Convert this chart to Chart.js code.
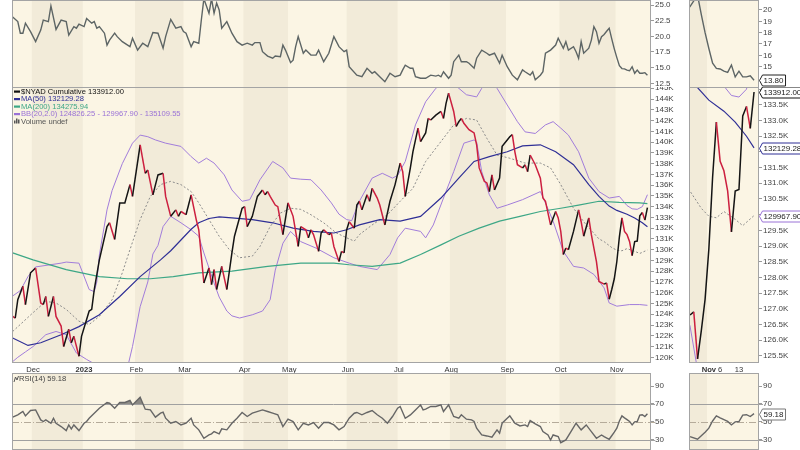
<!DOCTYPE html>
<html lang="en">
<head>
<meta charset="UTF-8">
<title>$NYAD Cumulative</title>
<script src="https://cdn.jsdelivr.net/npm/chart.js"></script>
<style>
    body { margin: 0; width: 800px; height: 450px; overflow: hidden; position: relative; background: #fff; }
    canvas { position: absolute; }
</style>
</head>
<body>
    <canvas id="topA" data-kind="top" width="678" height="88" style="left:12px;top:0"></canvas>
    <canvas id="mainA" data-kind="main" width="678" height="286" style="left:12px;top:87px"></canvas>
    <canvas id="rsiA" data-kind="rsi" width="678" height="77" style="left:12px;top:373px"></canvas>
    <canvas id="topB" data-kind="top" width="111" height="88" style="left:689px;top:0"></canvas>
    <canvas id="mainB" data-kind="main" width="111" height="286" style="left:689px;top:87px"></canvas>
    <canvas id="rsiB" data-kind="rsi" width="111" height="77" style="left:689px;top:373px"></canvas>

<script>
// day index 0 = 18 Nov 2022 ... 249 = 17 Nov 2023 (trading days), values in thousands
const nyad = [[0,123.8],[1,123.65],[2,125.35],[4,126.6],[5,124.9],[7,127.85],[9,128.3],[11,125.05],[12,124.9],[13,125.65],[14,123.8],[16,125.65],[17,123.8],[19,122.9],[20,121.0],[22,122.6],[23,121.35],[24,121.95],[26,120.1],[27,121.95],[30,124.3],[31,124.45],[32,126.3],[34,129.05],[37,132.15],[38,132.5],[40,130.95],[42,134.35],[44,134.35],[46,136.05],[47,134.95],[50,139.75],[52,137.1],[53,137.4],[55,135.1],[57,136.95],[59,137.1],[60,134.95],[62,133.1],[64,133.7],[65,133.1],[66,133.55],[68,133.25],[70,135.1],[72,132.8],[73,131.85],[75,126.9],[77,128.3],[78,126.75],[79,128.15],[80,126.3],[82,128.45],[84,126.3],[86,129.7],[87,131.25],[90,133.85],[91,134.0],[92,132.15],[94,133.1],[96,134.95],[98,135.55],[99,135.1],[100,135.4],[101,134.95],[103,134.15],[104,134.0],[106,131.4],[108,134.35],[110,133.1],[112,130.3],[113,132.15],[115,131.85],[116,131.1],[117,131.85],[118,131.4],[120,129.85],[121,131.55],[122,131.85],[124,131.4],[125,131.55],[126,130.3],[128,128.9],[129,129.85],[130,129.7],[131,131.85],[132,132.6],[134,132.0],[135,134.15],[136,134.5],[137,133.7],[139,135.1],[140,134.5],[141,135.7],[143,134.8],[144,134.15],[146,132.3],[148,134.5],[150,136.05],[152,138.05],[153,137.25],[154,134.95],[156,137.6],[157,139.1],[159,141.3],[160,140.05],[162,140.85],[163,142.2],[164,142.05],[166,142.5],[168,142.85],[169,142.2],[170,143.6],[171,144.55],[173,142.85],[174,141.45],[175,141.9],[176,142.2],[177,141.75],[179,141.15],[181,140.85],[182,139.75],[183,137.6],[185,136.35],[186,136.2],[187,135.4],[188,136.95],[189,135.55],[191,136.65],[192,139.6],[194,140.2],[195,140.5],[196,140.7],[197,139.1],[198,137.9],[200,137.6],[201,137.9],[202,137.25],[203,138.8],[205,137.9],[207,136.65],[208,134.8],[209,134.5],[211,132.3],[213,133.55],[214,132.95],[215,131.7],[216,129.55],[217,130.15],[218,130.0],[220,131.7],[222,133.7],[223,132.6],[224,131.25],[226,132.95],[227,131.4],[229,128.9],[230,127.05],[232,126.8],[233,126.9],[234,125.4],[235,126.3],[236,127.3],[237,128.9],[238,131.2],[239,132.95],[240,131.7],[241,131.4],[242,130.75],[243,129.45],[244,130.75],[245,130.8],[246,133.15],[247,133.45],[248,132.75],[249,133.91]];

const ma50 = [[0,121.8],[6,121.1],[11,121.35],[19,122.1],[26,122.85],[34,123.95],[42,125.65],[50,127.5],[58,129.05],[62,129.9],[66,130.9],[70,131.9],[73,132.5],[77,132.9],[81,133.05],[86,132.95],[94,132.8],[102,132.5],[110,132.0],[118,131.7],[126,131.55],[131,131.85],[136,132.3],[144,132.8],[152,132.65],[160,133.1],[168,134.8],[175,136.65],[181,138.2],[187,138.65],[194,139.1],[200,139.65],[207,139.75],[213,139.1],[220,137.9],[226,136.05],[230,134.95],[234,134.05],[237,133.65],[241,133.3],[244,132.95],[247,132.5],[249,132.13]];

const ma200 = [[0,129.7],[8,129.05],[21,128.15],[34,127.5],[45,127.3],[54,127.3],[63,127.5],[73,127.85],[86,128.0],[100,128.45],[113,128.75],[126,128.75],[132,128.6],[141,128.45],[152,128.75],[160,129.55],[168,130.45],[175,131.25],[183,132.0],[191,132.65],[199,133.1],[207,133.55],[215,133.85],[222,134.15],[230,134.5],[238,134.4],[246,134.35],[249,134.28]];

const bbUpper = [[0,125.7],[3,126.2],[6,127.5],[9,128.4],[19,128.75],[21,128.85],[26,128.75],[30,126.3],[32,126.1],[33,127.0],[34,129.5],[37,133.7],[39,135.5],[43,138.0],[47,139.9],[50,140.65],[53,140.5],[56,140.2],[60,139.9],[66,139.6],[70,138.65],[73,138.05],[76,138.5],[79,138.05],[83,136.95],[86,135.55],[90,134.5],[93,134.65],[97,136.5],[102,138.2],[106,137.6],[109,136.65],[113,136.55],[117,136.5],[121,135.55],[125,134.35],[128,133.3],[131,132.8],[133,132.7],[136,134.5],[141,136.65],[145,137.1],[149,136.65],[151,136.9],[154,138.2],[158,141.6],[162,143.75],[166,145.0],[170,145.8],[175,145.0],[178,144.4],[182,144.2],[184,145.0],[187,146.0],[190,145.0],[194,143.45],[198,141.9],[201,140.95],[205,140.8],[209,141.6],[212,141.9],[215,141.3],[218,140.65],[222,139.1],[226,136.65],[230,135.4],[234,134.8],[238,134.95],[241,134.1],[243,133.8],[245,133.75],[247,134.0],[249,135.11]];

const bbLower = [[0,119.6],[2,120.0],[5,120.5],[8,121.0],[13,122.1],[17,122.4],[21,122.1],[25,120.4],[29,119.8],[32,119.4],[35,117.8],[39,116.6],[43,117.6],[45,119.0],[47,121.0],[50,124.7],[53,127.0],[55,129.6],[57,130.4],[59,132.15],[62,133.1],[66,132.5],[70,131.85],[73,131.25],[75,129.7],[79,126.9],[81,125.6],[84,124.3],[86,123.85],[89,123.65],[94,123.95],[98,124.3],[101,125.35],[103,128.1],[106,130.6],[109,131.7],[113,130.75],[119,130.15],[126,129.25],[132,128.75],[136,128.45],[143,128.15],[148,129.55],[151,131.1],[154,132.0],[160,131.7],[162,131.1],[165,132.3],[169,134.8],[173,137.25],[177,139.9],[181,140.2],[182,140.0],[184,137.25],[187,135.1],[190,133.85],[194,134.15],[200,134.65],[207,135.4],[208,134.9],[212,132.65],[216,129.85],[220,128.45],[224,128.3],[228,127.7],[232,126.45],[234,125.05],[237,124.75],[242,124.9],[246,124.9],[249,124.83]];

const bbMiddle = [[0,122.4],[8,124.15],[13,125.2],[17,125.05],[21,124.45],[26,123.35],[30,123.05],[34,123.8],[39,125.35],[43,127.85],[46,130.0],[50,132.8],[54,134.95],[58,136.05],[62,136.35],[66,136.05],[70,135.4],[73,134.35],[77,132.8],[81,131.25],[85,130.0],[89,129.25],[94,129.4],[97,130.3],[101,132.15],[105,133.4],[109,133.85],[113,133.75],[117,133.25],[122,132.5],[127,131.55],[132,131.0],[134,130.8],[136,131.4],[141,132.3],[147,133.25],[152,134.5],[157,135.7],[162,138.2],[168,140.05],[173,141.6],[178,142.2],[182,142.05],[186,140.35],[190,138.8],[195,138.5],[201,138.05],[207,138.05],[211,137.6],[215,136.05],[220,133.85],[225,132.3],[230,131.0],[232,130.75],[235,130.2],[237,129.95],[239,129.9],[241,130.1],[244,129.85],[246,129.65],[249,129.97]];

const vix = [[0,23.1],[2,22.35],[3,20.5],[4,20.5],[5,22.1],[7,20.75],[9,19.15],[11,21.0],[12,22.6],[14,22.35],[15,24.85],[17,21.1],[19,22.6],[21,22.35],[22,20.2],[24,21.55],[25,21.3],[26,21.95],[28,21.55],[29,22.85],[31,22.1],[32,22.35],[33,21.3],[34,21.55],[36,20.5],[37,18.6],[38,19.4],[40,20.5],[41,19.95],[43,19.15],[46,18.35],[47,19.7],[49,17.8],[51,18.9],[53,18.35],[55,20.6],[57,20.5],[59,18.1],[60,19.95],[62,22.7],[64,21.3],[66,21.55],[67,20.75],[68,20.5],[70,18.35],[71,19.15],[73,18.9],[74,22.6],[75,26.0],[77,23.7],[78,26.0],[79,23.7],[80,25.3],[81,24.2],[82,21.3],[84,22.35],[86,20.5],[88,19.15],[90,18.6],[92,18.9],[94,18.6],[95,19.0],[97,19.0],[98,17.55],[100,16.85],[102,16.5],[103,16.85],[105,16.75],[106,18.6],[107,17.8],[109,15.8],[110,16.2],[111,18.35],[112,19.95],[114,17.3],[115,17.8],[117,17.0],[119,17.0],[120,17.8],[122,15.95],[124,17.3],[126,19.95],[128,18.35],[130,17.55],[131,17.8],[132,15.15],[135,13.8],[137,13.55],[139,14.9],[141,14.1],[142,14.35],[144,13.55],[146,12.75],[148,14.1],[150,13.55],[152,13.8],[153,14.65],[154,15.4],[156,14.9],[157,14.9],[158,13.55],[160,13.3],[162,13.3],[164,13.8],[166,13.65],[167,13.8],[168,13.55],[169,14.35],[171,13.3],[172,13.8],[173,15.95],[175,17.0],[176,15.95],[178,15.95],[179,15.7],[181,14.9],[182,16.5],[184,17.8],[186,17.3],[187,17.0],[189,17.3],[191,15.7],[192,17.0],[194,15.15],[196,13.8],[198,13.05],[200,14.65],[201,14.35],[203,13.8],[204,14.35],[205,13.05],[207,13.8],[208,14.35],[209,17.3],[211,17.8],[213,18.6],[214,19.7],[215,18.9],[216,18.1],[217,19.15],[218,17.8],[220,18.35],[221,17.55],[222,16.5],[223,19.15],[224,17.3],[226,18.1],[227,19.4],[228,21.55],[229,20.75],[230,18.9],[231,19.95],[232,20.3],[233,20.8],[234,21.3],[235,19.6],[236,18.0],[237,16.6],[238,15.3],[239,14.85],[240,14.8],[241,14.6],[242,14.5],[243,15.15],[244,14.1],[245,14.6],[246,14.1],[247,14.1],[248,14.2],[249,13.8]];

const rsi = [[0,55.3],[2,57.9],[3,59.7],[4,61.6],[5,56.7],[7,62.7],[9,63.4],[11,52.2],[12,50.4],[13,52.2],[15,48.5],[16,54.1],[17,48.5],[19,44.8],[21,40.3],[22,46.6],[23,42.2],[24,46.6],[26,40.3],[28,48.5],[29,50.4],[30,54.1],[32,59.7],[34,65.3],[37,71.7],[38,70.9],[40,65.3],[42,71.7],[44,71.7],[46,73.9],[47,69.0],[50,77.6],[52,64.2],[54,63.4],[56,55.3],[58,59.7],[59,60.8],[60,54.1],[62,48.5],[64,50.4],[66,46.6],[68,48.5],[70,54.1],[71,46.6],[73,41.1],[75,31.7],[77,35.4],[78,36.6],[79,39.2],[81,36.6],[82,42.2],[84,41.1],[86,48.5],[88,54.1],[90,60.5],[92,56.0],[94,59.7],[98,63.4],[100,61.6],[102,59.7],[104,57.9],[106,44.8],[108,53.0],[110,50.4],[112,41.1],[114,48.5],[116,46.6],[118,49.3],[120,42.9],[122,49.3],[124,49.3],[126,46.6],[128,41.1],[130,44.8],[132,54.1],[134,59.7],[135,60.5],[137,57.9],[139,60.5],[141,62.7],[143,57.9],[145,54.1],[147,48.5],[149,56.0],[151,65.3],[152,67.2],[154,54.1],[156,57.8],[158,63.4],[160,69.0],[161,63.4],[162,64.2],[164,67.2],[166,67.2],[168,69.0],[169,61.6],[171,69.0],[173,56.0],[175,54.1],[176,57.9],[178,53.0],[180,52.2],[181,50.4],[182,42.9],[184,35.4],[186,34.3],[188,32.9],[190,41.1],[191,37.4],[192,48.5],[194,54.1],[195,56.7],[197,48.5],[199,45.5],[201,46.6],[202,44.8],[203,51.5],[205,47.8],[207,44.8],[208,39.2],[210,35.4],[211,29.8],[212,35.4],[214,33.6],[215,26.8],[217,29.8],[219,39.2],[221,48.5],[223,41.1],[225,46.6],[227,39.2],[229,31.7],[231,35.4],[232,33.6],[234,30.6],[235,34.5],[236,38.5],[237,43.0],[238,51.0],[239,56.7],[240,54.5],[241,52.5],[242,50.5],[243,46.6],[244,50.0],[245,50.4],[246,57.5],[247,58.0],[248,56.0],[249,59.18]];

// month starts (day index) and their labels
const monthTicks = [8, 28, 48.5, 67.5, 91, 108.5, 131.5, 151.5, 172, 194, 215, 237];
const monthLabels = ['Dec', '2023', 'Feb', 'Mar', 'Apr', 'May', 'Jun', 'Jul', 'Aug', 'Sep', 'Oct', 'Nov'];
const zoomTicks = [237, 240, 245];
const zoomLabels = ['Nov', '6', '13'];
const rsiLevels = [30, 50, 70];
const rsiTicks = [30, 50, 70, 90];

const legendRows = [
    ['$NYAD Cumulative 133912.00', '#111111'],
    ['MA(50) 132129.28', '#2f2f96'],
    ['MA(200) 134275.94', '#3da786'],
    ['BB(20,2.0) 124826.25 - 129967.90 - 135109.55', '#9a72d6'],
    ['Volume undef', '#555555']
];
const rsiLegend = 'RSI(14) 59.18';

// last-value tags on the zoomed panels
const tagsTop = [[13.80, '13.80', '#222']];
const tagsMain = [[133.912, '133912.00', '#111'], [132.12928, '132129.28', '#2f2f96'], [129.9679, '129967.90', '#9a72d6']];
const tagsRsi = [[59.18, '59.18', '#777']];

const FONT = "'Liberation Sans', Arial, sans-serif";
const BG_LIGHT = '#fbf5e4';
const BG_DARK = '#f2ebd9';
const RED = '#cc1f3f';

function pts(arr) { return arr.map(p => ({ x: p[0], y: p[1] })); }

const panelCfg = {
    topA: {}, mainA: { legend: true }, rsiA: { legend: true },
    topB: { tags: tagsTop }, mainB: { tags: tagsMain }, rsiB: { tags: tagsRsi }
};

const panelPlugin = {
    id: 'panel',
    beforeDatasetsDraw(chart) {
        const { ctx, chartArea: a } = chart;
        const xs = chart.scales.x, ys = chart.scales.y;
        ctx.save();
        ctx.fillStyle = BG_LIGHT;
        ctx.fillRect(a.left, a.top, a.width, a.height);
        ctx.fillStyle = BG_DARK;
        for (let k = 0; k + 1 < monthTicks.length; k += 2) {
            const l = Math.max(a.left, xs.getPixelForValue(monthTicks[k] - 0.5));
            const r = Math.min(a.right, xs.getPixelForValue(monthTicks[k + 1] - 0.5));
            if (r > l) ctx.fillRect(l, a.top, r - l, a.height);
        }
        if (chart.canvas.dataset.kind === 'rsi') {
            rsiLevels.forEach(v => {
                const y = Math.round(ys.getPixelForValue(v)) + 0.5;
                ctx.beginPath();
                ctx.setLineDash(v === 50 ? [7, 2, 1, 2] : []);
                ctx.strokeStyle = v === 50 ? '#b5ab9a' : '#a0a0a0';
                ctx.lineWidth = 1;
                ctx.moveTo(a.left, y);
                ctx.lineTo(a.right + 4, y);
                ctx.stroke();
            });
        }
        ctx.restore();
    },
    afterDraw(chart) {
        const { ctx, chartArea: a } = chart;
        const cfg = panelCfg[chart.canvas.id];
        const kind = chart.canvas.dataset.kind;
        ctx.save();
        ctx.strokeStyle = '#a4a4a4';
        ctx.lineWidth = 1;
        ctx.strokeRect(a.left + 0.5, a.top + 0.5, a.width - 1, a.height - 1);

        if (cfg.legend && kind === 'main') {
            ctx.font = '7.6px ' + FONT;
            ctx.textBaseline = 'middle';
            legendRows.forEach((row, k) => {
                const y = a.top + 4.5 + k * 7.5;
                ctx.fillStyle = row[1];
                if (k === 4) {
                    ctx.fillRect(a.left + 2, y - 1, 1.5, 3);
                    ctx.fillRect(a.left + 4, y - 3, 1.5, 5);
                    ctx.fillRect(a.left + 6, y - 2, 1.5, 4);
                } else {
                    ctx.fillRect(a.left + 2, y - 1, 6, 2.2);
                }
                ctx.fillText(row[0], a.left + 9, y);
            });
        }
        if (cfg.legend && kind === 'rsi') {
            const y = a.top + 6;
            ctx.strokeStyle = '#555';
            ctx.beginPath();
            ctx.moveTo(a.left + 2, y + 3); ctx.lineTo(a.left + 3.5, y - 2);
            ctx.lineTo(a.left + 5, y + 1); ctx.lineTo(a.left + 6.5, y - 3);
            ctx.stroke();
            ctx.font = '7.6px ' + FONT;
            ctx.textBaseline = 'middle';
            ctx.fillStyle = '#444';
            ctx.fillText(rsiLegend, a.left + 7, y);
        }
        if (cfg.tags) {
            ctx.font = '8px ' + FONT;
            ctx.textBaseline = 'middle';
            cfg.tags.forEach(t => {
                const y = Math.round(chart.scales.y.getPixelForValue(t[0])) + 0.5;
                const x0 = a.right + 0.5;
                const w = ctx.measureText(t[1]).width + 3;
                ctx.beginPath();
                ctx.moveTo(x0, y);
                ctx.lineTo(x0 + 3, y - 5.5);
                ctx.lineTo(x0 + 3 + w, y - 5.5);
                ctx.lineTo(x0 + 3 + w, y + 5.5);
                ctx.lineTo(x0 + 3, y + 5.5);
                ctx.closePath();
                ctx.fillStyle = '#ffffff';
                ctx.fill();
                ctx.strokeStyle = t[2];
                ctx.stroke();
                ctx.fillStyle = '#222';
                ctx.fillText(t[1], x0 + 4, y + 0.5);
            });
        }
        ctx.restore();
    }
};

function yAxis(min, max, width, extra) {
    return Object.assign({
        type: 'linear', position: 'right', min: min, max: max,
        grid: { drawOnChartArea: false, drawTicks: true, tickLength: 3, tickColor: '#9a9a9a' },
        border: { display: false },
        ticks: { color: '#444', font: { family: FONT, size: 8 }, padding: 1, includeBounds: false, autoSkip: false, maxRotation: 0 },
        afterFit(s) { s.width = width; s.paddingTop = 0; s.paddingBottom = 0; }
    }, extra);
}

function xAxis(min, max, tickVals, tickLabels, boldLabel) {
    if (!tickVals) return { type: 'linear', min: min, max: max, display: false };
    return {
        type: 'linear', min: min, max: max,
        grid: { display: false, drawTicks: false },
        border: { display: false },
        afterBuildTicks(s) { s.ticks = tickVals.map(v => ({ value: v })); },
        ticks: {
            autoSkip: false, maxRotation: 0, padding: 2, color: '#333',
            font: c => ({ family: FONT, size: 7.6, weight: c.tick && c.tick.value === tickVals[tickLabels.indexOf(boldLabel)] ? 'bold' : 'normal' }),
            callback: (v, i) => tickLabels[i]
        },
        afterFit(s) { s.height = 10; s.paddingLeft = 0; s.paddingRight = 0; }
    };
}

function mainSets() {
    return [
        { data: pts(nyad), borderWidth: 1.5, borderColor: '#141414',
          segment: { borderColor: c => c.p1.parsed.y < c.p0.parsed.y ? RED : '#141414' } },
        { data: pts(ma50), borderWidth: 1.2, borderColor: '#2f2f96' },
        { data: pts(ma200), borderWidth: 1.2, borderColor: '#3da786' },
        { data: pts(bbUpper), borderWidth: 1, borderColor: '#a27ddb' },
        { data: pts(bbLower), borderWidth: 1, borderColor: '#a27ddb' },
        { data: pts(bbMiddle), borderWidth: 1, borderColor: '#8c8c8c', borderDash: [2, 2] }
    ];
}
function vixSets() {
    return [{ data: pts(vix), borderWidth: 1.4, borderColor: '#5d6565' }];
}
function rsiSets() {
    return [{ data: pts(rsi), borderWidth: 1.4, borderColor: '#666666',
              fill: { target: { value: 70 }, above: 'rgba(95,95,95,0.7)', below: 'rgba(0,0,0,0)' } }];
}

function makeChart(id, datasets, x, y) {
    return new Chart(document.getElementById(id), {
        type: 'line',
        data: { datasets: datasets },
        options: {
            responsive: false, animation: false, devicePixelRatio: 1,
            layout: { padding: 0 },
            elements: { point: { radius: 0 }, line: { tension: 0 } },
            plugins: { legend: { display: false }, tooltip: { enabled: false } },
            scales: { x: x, y: y }
        },
        plugins: [panelPlugin]
    });
}

// wide panels
const AX = [-0.27, 250.4];
makeChart('topA', vixSets(), xAxis(AX[0], AX[1]),
    yAxis(11.75, 25.8, 39, { ticks: { color: '#444', font: { family: FONT, size: 8 }, padding: 1, includeBounds: false, autoSkip: false, stepSize: 2.5, callback: v => v.toFixed(1) } }));
makeChart('mainA', mainSets(), xAxis(AX[0], AX[1], monthTicks, monthLabels, '2023'),
    yAxis(119.47, 145.12, 39, { ticks: { color: '#444', font: { family: FONT, size: 8 }, padding: 1, includeBounds: false, autoSkip: false, stepSize: 1, callback: v => v + 'K' } }));
makeChart('rsiA', rsiSets(), xAxis(AX[0], AX[1]),
    yAxis(18.6, 104.6, 39, { afterBuildTicks: s => { s.ticks = rsiTicks.map(v => ({ value: v })); } }));

// zoomed panels
const BX = [231.73, 250.32];
makeChart('topB', vixSets(), xAxis(BX[0], BX[1]),
    yAxis(13.12, 20.88, 41, { afterBuildTicks: s => { s.ticks = [15, 16, 17, 18, 19, 20].map(v => ({ value: v })); } }));
makeChart('mainB', mainSets(), xAxis(BX[0], BX[1], zoomTicks, zoomLabels, 'Nov'),
    yAxis(125.27, 134.07, 41, { ticks: { color: '#444', font: { family: FONT, size: 8 }, padding: 1, includeBounds: false, autoSkip: false, stepSize: 0.5, callback: v => v >= 134 ? '' : v.toFixed(1) + 'K' } }));
makeChart('rsiB', rsiSets(), xAxis(BX[0], BX[1]),
    yAxis(18.6, 104.6, 41, { afterBuildTicks: s => { s.ticks = rsiTicks.map(v => ({ value: v })); } }));
</script>
</body>
</html>
